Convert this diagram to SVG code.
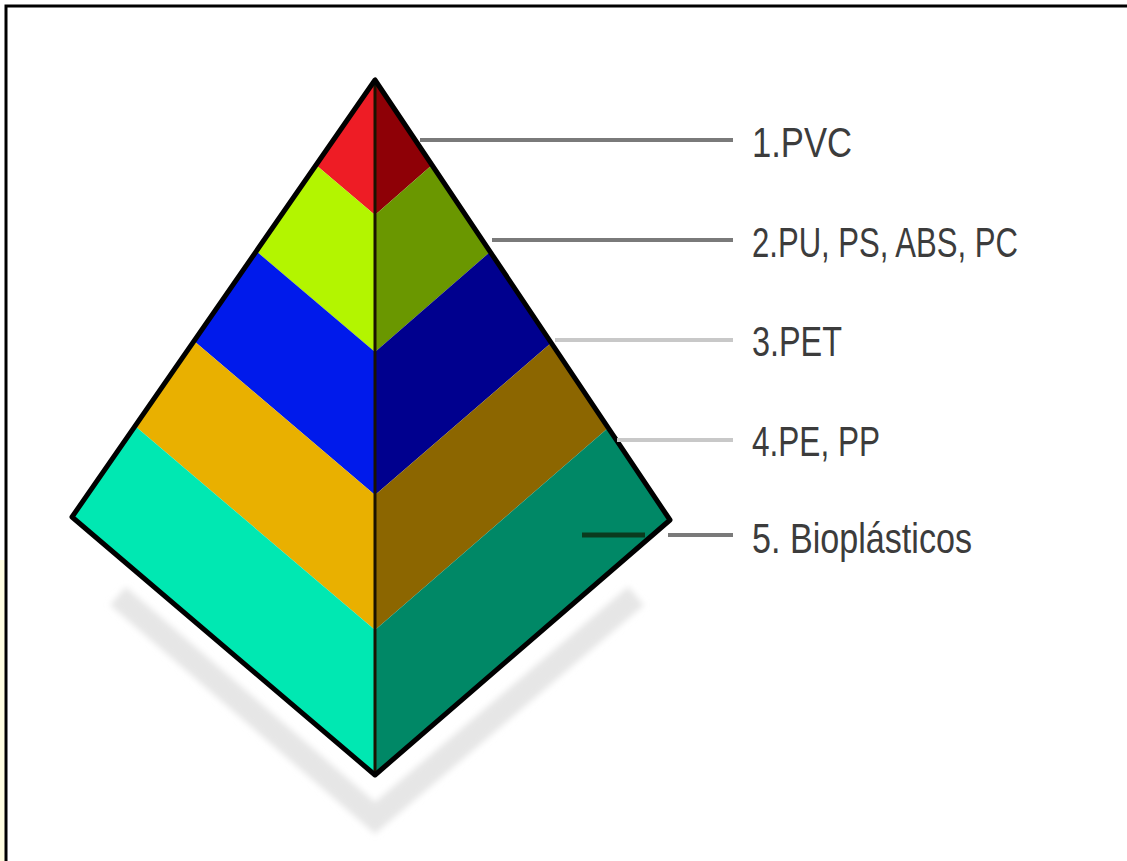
<svg xmlns="http://www.w3.org/2000/svg" width="1127" height="861" viewBox="0 0 1127 861">
<defs>
<style>
.lbl{font-family:"Liberation Sans",Arial,sans-serif;font-size:42px;fill:#3c3c3c}
.lead{stroke:#7a7a7a;stroke-width:4;fill:none}
.leadl{stroke:#c8c8c8;stroke-width:4;fill:none}
.edge{stroke:#000;stroke-width:5;fill:none;stroke-linejoin:round}
</style>
<filter id="blur" x="-10%" y="-10%" width="120%" height="120%"><feGaussianBlur stdDeviation="3"/></filter>
</defs>
<rect x="0" y="0" width="1127" height="861" fill="#fff"/>
<rect x="0" y="560" width="5" height="301" fill="#fffde0"/>
<path d="M6 861 V6 H1127" stroke="#000" stroke-width="3" fill="none"/>
<g id="shadow">
<polyline points="118,596 375,818 636,596" stroke="#e6e6e6" stroke-width="24" fill="none" filter="url(#blur)"/>
</g>
<g id="pyramid">
<g id="layer1">
<polygon points="375,80 316,165 375,215" fill="#ee1c25"/>
<polygon points="375,80 432,165 375,215" fill="#8e0006"/>
</g>
<g id="layer2">
<polygon points="316,165 256,251 375,352 375,215" fill="#b3f500"/>
<polygon points="432,165 490,252 375,352 375,215" fill="#6a9700"/>
</g>
<g id="layer3">
<polygon points="256,251 194,341 375,495 375,352" fill="#001aeb"/>
<polygon points="490,252 551,343 375,495 375,352" fill="#00008e"/>
</g>
<g id="layer4">
<polygon points="194,341 135,426 375,630 375,495" fill="#e9b000"/>
<polygon points="551,343 608,428 375,630 375,495" fill="#8c6600"/>
</g>
<g id="layer5">
<polygon points="135,426 72,517 375,775 375,630" fill="#00e8b2"/>
<polygon points="608,428 670,520 375,775 375,630" fill="#008866"/>
</g>
<line x1="375" y1="82" x2="375" y2="775" stroke="#1a1200" stroke-width="3"/>
<polygon class="edge" points="375,80 72,517 375,775 670,520"/>
</g>
<g id="connectors">
<line class="lead" x1="420" y1="140" x2="733" y2="140"/>
<line class="lead" x1="492" y1="240" x2="733" y2="240"/>
<line class="leadl" x1="555" y1="340" x2="733" y2="340"/>
<line class="leadl" x1="617" y1="440" x2="733" y2="440"/>
<line x1="582" y1="535" x2="645" y2="535" stroke="#0b3a1e" stroke-width="5"/>
<line class="lead" x1="668" y1="535" x2="733" y2="535"/>
</g>
<g id="labels">
<text class="lbl" x="752" y="157" textLength="100" lengthAdjust="spacingAndGlyphs">1.PVC</text>
<text class="lbl" x="752" y="257" textLength="266" lengthAdjust="spacingAndGlyphs">2.PU, PS, ABS, PC</text>
<text class="lbl" x="752" y="356" textLength="90" lengthAdjust="spacingAndGlyphs">3.PET</text>
<text class="lbl" x="752" y="456" textLength="128" lengthAdjust="spacingAndGlyphs">4.PE, PP</text>
<text class="lbl" x="752" y="553" textLength="220" lengthAdjust="spacingAndGlyphs">5. Bioplásticos</text>
</g>
</svg>
